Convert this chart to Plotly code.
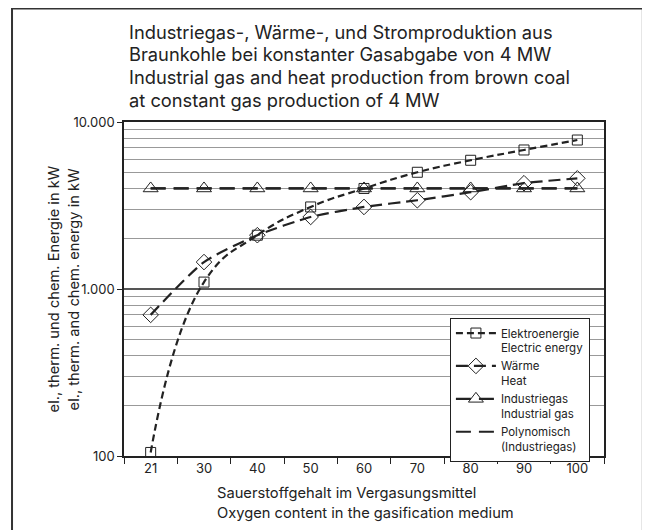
import plotly.graph_objects as go

# data
oxygen = ["21", "30", "40", "50", "60", "70", "80", "90", "100"]
electric = [105, 1100, 2100, 3100, 4000, 5000, 5900, 6800, 7800]
heat = [700, 1450, 2100, 2700, 3100, 3400, 3800, 4300, 4600]
ind_gas = [4000, 4000, 4000, 4000, 4000, 4000, 4000, 4000, 4000]

major_ticks = [100, 1000, 10000]
major_text = ["100", "1.000", "10.000"]
minor_ticks = [m * d for d in (100, 1000) for m in range(2, 10)]

title_lines = [
    "Industriegas-, Wärme-, und Stromproduktion aus",
    "Braunkohle bei konstanter Gasabgabe von 4 MW",
    "Industrial gas and heat production from brown coal",
    "at constant gas production of 4 MW",
]
y_title_lines = [
    "el., therm. und chem. Energie in kW",
    "el., therm. and chem. energy in kW",
]
x_title_lines = [
    "Sauerstoffgehalt im Vergasungsmittel",
    "Oxygen content in the gasification medium",
]

FONT = "Inter, Liberation Sans, Arial, sans-serif"
INK = "#222"

fig = go.Figure()

fig.add_trace(go.Scatter(
    x=oxygen, y=electric, mode="lines+markers",
    name="Elektroenergie<br>Electric energy",
    line=dict(color=INK, width=2.2, dash="7px,4px", shape="spline", smoothing=1.3),
    marker=dict(symbol="square-open", size=10, color=INK, line=dict(width=1)),
))
fig.add_trace(go.Scatter(
    x=oxygen, y=heat, mode="lines+markers",
    name="Wärme<br>Heat",
    line=dict(color=INK, width=2.2, dash="12px,6px", shape="spline", smoothing=0.6),
    marker=dict(symbol="diamond-open", size=12, color=INK, line=dict(width=1)),
))
fig.add_trace(go.Scatter(
    x=oxygen, y=ind_gas, mode="lines+markers",
    name="Industriegas<br>Industrial gas",
    line=dict(color=INK, width=2.2, dash="15px,8px"),
    marker=dict(symbol="triangle-up-open", size=13, color=INK, line=dict(width=1)),
))
fig.add_trace(go.Scatter(
    x=oxygen, y=ind_gas, mode="lines",
    name="Polynomisch<br>(Industriegas)",
    line=dict(color=INK, width=2.2, dash="15px,8px"),
))

fig.update_xaxes(
    type="category",
    range=[-0.5, 8.5],
    showline=True, linecolor=INK, linewidth=1.5, mirror=True,
    ticks="outside", ticklen=6, tickcolor=INK, tickson="boundaries",
    showgrid=False,
    tickfont=dict(family=FONT, size=13, color=INK),
)
fig.update_yaxes(
    type="log",
    range=[2, 4],
    tickmode="array", tickvals=major_ticks, ticktext=major_text,
    showline=True, linecolor=INK, linewidth=1.5, mirror=True,
    ticks="outside", ticklen=5, tickcolor=INK,
    showgrid=True, gridcolor="#555", gridwidth=1.5,
    tickfont=dict(family=FONT, size=13, color=INK),
    minor=dict(tickmode="array", tickvals=minor_ticks, showgrid=True,
               gridcolor="#999", gridwidth=1, ticks=""),
    zeroline=False,
)

# chart title: one annotation per line to keep the tight line spacing
for i, line in enumerate(title_lines):
    fig.add_annotation(
        xref="paper", yref="paper", x=0.006, y=1.2695 - i * 0.0674,
        xanchor="left", yanchor="middle", showarrow=False,
        text=line, font=dict(family=FONT, size=18.3, color=INK),
    )

# y axis title, two rotated lines
for i, line in enumerate(y_title_lines):
    fig.add_annotation(
        xref="paper", yref="paper", x=-0.145 + i * 0.0417, y=0.5,
        xanchor="center", yanchor="middle", textangle=-90, showarrow=False,
        text=line, font=dict(family=FONT, size=14.7, color=INK),
    )

# x axis title, two left-aligned lines
for i, line in enumerate(x_title_lines):
    fig.add_annotation(
        xref="paper", yref="paper", x=0.19, y=-0.1108 - i * 0.06,
        xanchor="left", yanchor="middle", showarrow=False,
        text=line, font=dict(family=FONT, size=14.7, color=INK),
    )

# frame around the whole picture
fig.add_shape(
    type="rect", xref="paper", yref="paper",
    x0=-0.2333, x1=1.081, y0=-0.4, y1=1.3398,
    line=dict(color="#333", width=2), layer="below",
)

fig.update_layout(
    width=642, height=522,
    margin=dict(l=116, r=46, t=114, b=74),
    paper_bgcolor="white", plot_bgcolor="white",
    font=dict(family=FONT, color=INK),
    showlegend=True,
    legend=dict(
        x=0.679, y=0.413, xanchor="left", yanchor="top",
        bgcolor="white", bordercolor=INK, borderwidth=1,
        font=dict(family=FONT, size=11.5, color=INK),
        itemwidth=40, tracegroupgap=0, valign="top",
    ),
)

fig.write_html("out.html")
